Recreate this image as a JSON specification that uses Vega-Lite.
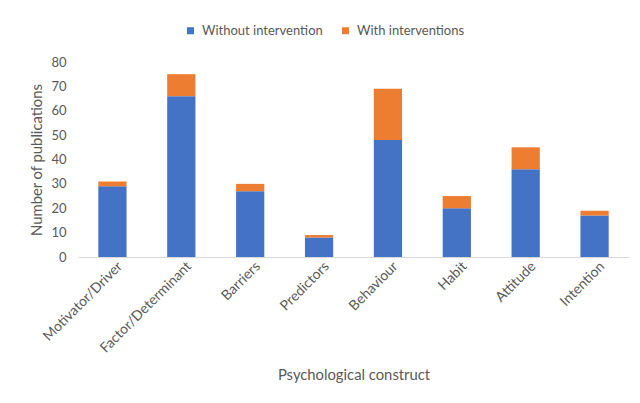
{
  "$schema": "https://vega.github.io/schema/vega-lite/v6.json",
  "width": 551,
  "height": 195,
  "autosize": {"type": "none"},
  "padding": {"left": 78, "top": 62, "right": 11, "bottom": 146},
  "background": "white",
  "config": {
    "font": "Lato",
    "view": {"stroke": null},
    "axis": {"labelColor": "#595959", "titleColor": "#595959", "labelFont": "Lato", "titleFont": "Lato", "titleFontWeight": "normal"},
    "legend": {"labelColor": "#595959", "labelFont": "Lato"}
  },
  "data": {
    "values": [
      {"construct": "Motivator/Driver", "series": "Without intervention", "count": 29},
      {"construct": "Motivator/Driver", "series": "With interventions", "count": 2},
      {"construct": "Factor/Determinant", "series": "Without intervention", "count": 66},
      {"construct": "Factor/Determinant", "series": "With interventions", "count": 9},
      {"construct": "Barriers", "series": "Without intervention", "count": 27},
      {"construct": "Barriers", "series": "With interventions", "count": 3},
      {"construct": "Predictors", "series": "Without intervention", "count": 8},
      {"construct": "Predictors", "series": "With interventions", "count": 1},
      {"construct": "Behaviour", "series": "Without intervention", "count": 48},
      {"construct": "Behaviour", "series": "With interventions", "count": 21},
      {"construct": "Habit", "series": "Without intervention", "count": 20},
      {"construct": "Habit", "series": "With interventions", "count": 5},
      {"construct": "Attitude", "series": "Without intervention", "count": 36},
      {"construct": "Attitude", "series": "With interventions", "count": 9},
      {"construct": "Intention", "series": "Without intervention", "count": 17},
      {"construct": "Intention", "series": "With interventions", "count": 2}
    ]
  },
  "mark": {"type": "bar"},
  "encoding": {
    "x": {
      "field": "construct",
      "type": "nominal",
      "sort": null,
      "scale": {"paddingInner": 0.59, "paddingOuter": 0.295},
      "axis": {
        "title": "Psychological construct",
        "titleFontSize": 14.8,
        "titlePadding": 12,
        "labelAngle": -45,
        "labelFontSize": 14,
        "labelPadding": 2,
        "labelOffset": 3,
        "ticks": false,
        "domainColor": "#d9d9d9",
        "domainWidth": 1
      }
    },
    "y": {
      "field": "count",
      "type": "quantitative",
      "stack": "zero",
      "scale": {"domain": [0, 80], "nice": false},
      "axis": {
        "title": "Number of publications",
        "titleFontSize": 14.8,
        "titlePadding": 6,
        "values": [0, 10, 20, 30, 40, 50, 60, 70, 80],
        "labelFontSize": 13,
        "labelPadding": 12,
        "ticks": false,
        "domain": false,
        "grid": false
      }
    },
    "color": {
      "field": "series",
      "type": "nominal",
      "scale": {"domain": ["Without intervention", "With interventions"], "range": ["#4472C4", "#ED7D31"]},
      "legend": {
        "title": null,
        "orient": "none",
        "direction": "horizontal",
        "legendX": 106,
        "legendY": -38,
        "symbolType": "square",
        "symbolSize": 49,
        "symbolStrokeWidth": 0,
        "labelFontSize": 13,
        "labelOffset": 5,
        "columnPadding": 16,
        "padding": 0
      }
    },
    "order": {"field": "series", "sort": "descending"}
  }
}
